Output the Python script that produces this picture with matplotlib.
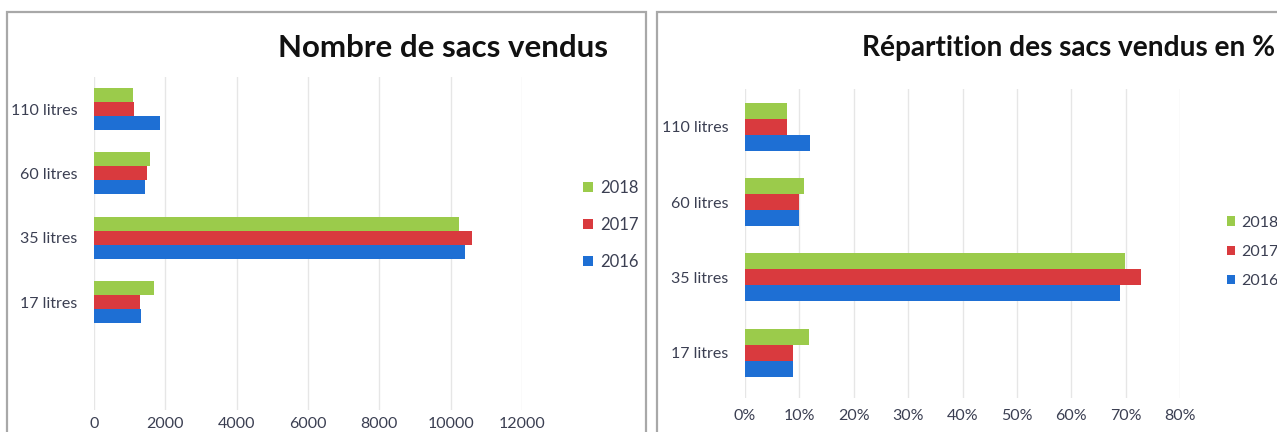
import matplotlib.pyplot as plt
from matplotlib.patches import Rectangle
from matplotlib.ticker import PercentFormatter

plt.rcParams['font.family'] = ['Lato', 'DejaVu Sans']

categories = ['17 litres', '35 litres', '60 litres', '110 litres']
years = ['2016', '2017', '2018']
colors = {'2016': '#1E6FD4', '2017': '#D93A3E', '2018': '#9BCB4B'}

# nombre de sacs vendus
sacs = {
    '2016': [1310, 10400, 1420, 1850],
    '2017': [1290, 10600, 1490, 1110],
    '2018': [1670, 10230, 1580, 1090],
}
# répartition en %
pct = {
    '2016': [8.8, 68.9, 9.9, 11.9],
    '2017': [8.8, 72.9, 9.9, 7.7],
    '2018': [11.8, 69.9, 10.9, 7.7],
}

W, H = 1277, 432
fig = plt.figure(figsize=(W / 100, H / 100), dpi=100)
fig.patch.set_facecolor('white')

# panel frames
for x0, x1 in [(7, 646), (657, 1290)]:
    fig.patches.append(Rectangle((x0 / W, -0.05), (x1 - x0) / W, (H - 12) / H + 0.05,
                                 transform=fig.transFigure, fill=False,
                                 edgecolor='#A8A8A8', linewidth=1.6))

txt_col = '#3B3F52'


def draw(ax, data, offsets, bh, label_pad, xpad):
    idx = list(range(len(categories)))
    handles = {}
    for yr in years:
        y = [i + offsets[yr] for i in idx]
        handles[yr] = ax.barh(y, data[yr], height=bh, color=colors[yr], zorder=3)
    ax.set_yticks(idx)
    ax.set_yticklabels(categories)
    for s in ax.spines.values():
        s.set_visible(False)
    ax.tick_params(length=0, labelsize=11.5, labelcolor=txt_col)
    ax.tick_params(axis='y', pad=label_pad)
    ax.tick_params(axis='x', pad=xpad)
    ax.grid(axis='x', color='#E6E6E6', linewidth=1, zorder=0)
    return handles


# left chart
ax1 = fig.add_axes([94 / W, (H - 410) / H, 428 / W, 333 / H])
h1 = draw(ax1, sacs, {'2018': 0.218, '2017': 0.0, '2016': -0.218}, 0.218, 12, 5)
ax1.set_xlim(0, 12000)
ax1.set_xticks(range(0, 12001, 2000))
ax1.set_ylim(-1.68, 3.5)
ax1.legend([h1[y] for y in ['2018', '2017', '2016']], ['2018', '2017', '2016'],
           loc='center left', bbox_to_anchor=(575 / W, (H - 225) / H),
           bbox_transform=fig.transFigure, frameon=False, fontsize=12,
           labelspacing=1.25, handlelength=0.55, handleheight=0.55,
           handletextpad=0.45, labelcolor=txt_col, borderpad=0)
fig.text(443 / W, (H - 48) / H, 'Nombre de sacs vendus', ha='center', va='center',
         fontsize=22.5, fontweight='bold', color='#111111')

# right chart
ax2 = fig.add_axes([745 / W, (H - 398) / H, 435 / W, 309 / H])
h2 = draw(ax2, pct, {'2018': 0.213, '2017': 0.0, '2016': -0.213}, 0.213, 12, 8)
ax2.set_xlim(0, 80)
ax2.set_xticks(range(0, 81, 10))
ax2.xaxis.set_major_formatter(PercentFormatter(decimals=0))
ax2.set_ylim(-0.6, 3.5)
ax2.legend([h2[y] for y in ['2018', '2017', '2016']], ['2018', '2017', '2016'],
           loc='center left', bbox_to_anchor=(1219 / W, (H - 252) / H),
           bbox_transform=fig.transFigure, frameon=False, fontsize=11.5,
           labelspacing=0.95, handlelength=0.5, handleheight=0.55,
           handletextpad=0.4, labelcolor=txt_col, borderpad=0)
fig.text(862 / W, (H - 48) / H, 'Répartition des sacs vendus en %', ha='left', va='center',
         fontsize=20.2, fontweight='bold', color='#111111')

fig.savefig('out.png', dpi=100)
